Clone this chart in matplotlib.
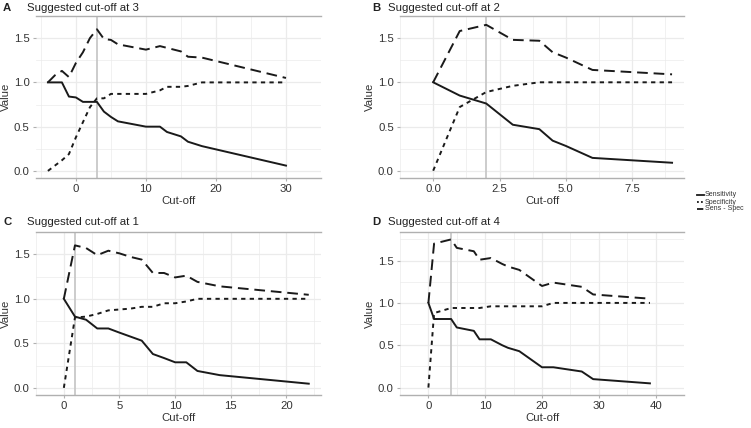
import matplotlib
matplotlib.use("Agg")
import matplotlib.pyplot as plt
from matplotlib.lines import Line2D

plt.rcParams['font.family'] = ['Liberation Sans', 'DejaVu Sans']

# Panel A
a_x = [-4, -3, -2, -1, 0, 1, 2, 3, 4, 5, 6, 10, 12, 13, 15, 16, 18, 30]
a_sens = [1.0, 1.0, 1.0, 0.84, 0.83, 0.78, 0.78, 0.78, 0.67, 0.61, 0.56, 0.50, 0.50, 0.44, 0.39, 0.33, 0.28, 0.06]
a_spec = [0.0, 0.06, 0.12, 0.19, 0.38, 0.55, 0.72, 0.82, 0.82, 0.87, 0.87, 0.87, 0.91, 0.95, 0.95, 0.96, 1.0, 1.0]
a_sum = [1.0, 1.08, 1.13, 1.06, 1.22, 1.34, 1.50, 1.60, 1.49, 1.48, 1.43, 1.37, 1.41, 1.39, 1.35, 1.29, 1.28, 1.05]
a_cut = 3

# Panel B
b_x = [0, 1, 2, 3, 4, 4.5, 5, 6, 9]
b_sens = [1.0, 0.85, 0.76, 0.52, 0.47, 0.34, 0.28, 0.145, 0.09]
b_spec = [0.0, 0.72, 0.89, 0.96, 1.0, 1.0, 1.0, 1.0, 1.0]
b_sum = [1.0, 1.58, 1.65, 1.48, 1.47, 1.34, 1.28, 1.14, 1.09]
b_cut = 2

# Panel C
c_x = [0, 1, 2, 3, 4, 5, 6, 7, 8, 9, 10, 11, 12, 14, 22]
c_sens = [1.0, 0.80, 0.765, 0.667, 0.667, 0.62, 0.575, 0.53, 0.38, 0.335, 0.287, 0.287, 0.19, 0.143, 0.047]
c_spec = [0.0, 0.79, 0.80, 0.83, 0.87, 0.88, 0.89, 0.91, 0.91, 0.95, 0.95, 0.97, 1.0, 1.0, 1.0]
c_sum = [1.0, 1.60, 1.57, 1.49, 1.54, 1.51, 1.47, 1.44, 1.29, 1.29, 1.24, 1.26, 1.19, 1.14, 1.045]
c_cut = 1

# Panel D
d_x = [0, 1, 4, 5, 8, 9, 11, 13, 14, 16, 20, 22, 27, 29, 39]
d_sens = [1.0, 0.81, 0.81, 0.71, 0.67, 0.57, 0.57, 0.50, 0.47, 0.43, 0.24, 0.24, 0.19, 0.10, 0.05]
d_spec = [0.0, 0.88, 0.94, 0.94, 0.94, 0.94, 0.96, 0.96, 0.96, 0.96, 0.96, 1.0, 1.0, 1.0, 1.0]
d_sum = [1.0, 1.70, 1.75, 1.65, 1.61, 1.51, 1.53, 1.46, 1.43, 1.39, 1.20, 1.24, 1.19, 1.10, 1.05]
d_cut = 4

letters = ["A", "B", "C", "D"]
titles = ["Suggested cut-off at 3", "Suggested cut-off at 2", "Suggested cut-off at 1", "Suggested cut-off at 4"]
legend_labels = ["Sensitivity", "Specificity", "Sens - Spec"]
xticks = [[0, 10, 20, 30], [0.0, 2.5, 5.0, 7.5], [0, 5, 10, 15, 20], [0, 10, 20, 30, 40]]
xticklabels = [["0", "10", "20", "30"], ["0.0", "2.5", "5.0", "7.5"], ["0", "5", "10", "15", "20"], ["0", "10", "20", "30", "40"]]
yticks = [0.0, 0.5, 1.0, 1.5]
ytlabels = ["0.0", "0.5", "1.0", "1.5"]

W, H = 751, 428
fig = plt.figure(figsize=(W / 100, H / 100), dpi=100)

boxes = [(36, 16, 321, 178), (400, 16, 684, 178), (36, 232, 321, 395), (400, 232, 684, 395)]
panels = [
    (a_x, a_sens, a_spec, a_sum, a_cut),
    (b_x, b_sens, b_spec, b_sum, b_cut),
    (c_x, c_sens, c_spec, c_sum, c_cut),
    (d_x, d_sens, d_spec, d_sum, d_cut),
]

lc = "#1a1a1a"
gridc = "#ebebeb"
axc = "#b0b0b0"
fs = 8.2

for i, ((l, t, r, b), (x, se, sp, su, cut)) in enumerate(zip(boxes, panels)):
    ax = fig.add_axes([l / W, 1 - b / H, (r - l) / W, (b - t) / H])
    xmin, xmax = min(x), max(x)
    xr = xmax - xmin
    ymax = max(max(su), max(se), max(sp))
    ax.set_xlim(xmin - 0.05 * xr, xmax + 0.05 * xr)
    ax.set_ylim(0 - 0.05 * ymax, ymax * 1.05)
    xt = xticks[i]
    step = xt[1] - xt[0]
    minors = [v + step / 2 for v in [xt[0] - step] + xt]
    ax.set_xticks(xt)
    ax.set_xticklabels(xticklabels[i])
    ax.set_xticks(minors, minor=True)
    ax.set_yticks(yticks)
    ax.set_yticklabels(ytlabels)
    ax.set_yticks([0.25, 0.75, 1.25, 1.75], minor=True)
    ax.grid(True, which="major", color=gridc, lw=0.9)
    ax.grid(True, which="minor", color=gridc, lw=0.5)
    ax.set_axisbelow(True)
    for s in ["left", "right"]:
        ax.spines[s].set_visible(False)
    ax.spines["top"].set_color(axc)
    ax.spines["bottom"].set_color(axc)
    ax.spines["top"].set_linewidth(1.0)
    ax.spines["bottom"].set_linewidth(1.0)
    ax.tick_params(which="major", length=2.5, color=axc, labelsize=fs, labelcolor="#333333", pad=2)
    ax.tick_params(which="minor", length=0)
    ax.axvline(cut, color="#c8c8c8", lw=1.3, zorder=1)
    ax.plot(x, se, color=lc, lw=1.4, ls="-", zorder=3)
    ax.plot(x, sp, color=lc, lw=1.4, ls=(0, (2.2, 2.2)), zorder=3)
    ax.plot(x, su, color=lc, lw=1.4, ls=(0, (5.5, 3)), zorder=3)
    ax.set_ylabel("Value", fontsize=fs, color="#333333", labelpad=2)
    ax.set_xlabel("Cut-off", fontsize=fs, color="#333333", labelpad=1)
    lx = 3 if i % 2 == 0 else 372
    tx = 27 if i % 2 == 0 else 388
    ty = 8 if i < 2 else 222
    fig.text(lx / W, 1 - ty / H, letters[i], fontsize=fs, fontweight="bold", va="center", ha="left", color="#222222")
    fig.text(tx / W, 1 - ty / H, titles[i], fontsize=fs, va="center", ha="left", color="#222222")

# legend
styles = ["-", (0, (1.0, 1.2)), (0, (3.5, 1.5))]
for k, (lab, st) in enumerate(zip(legend_labels, styles)):
    y = 195 + 7 * k
    fig.add_artist(Line2D([697 / W, 704 / W], [1 - y / H, 1 - y / H], color=lc, lw=1.3, ls=st,
                          transform=fig.transFigure))
    fig.text(705 / W, 1 - y / H, lab, fontsize=5.0, va="center", ha="left", color="#333333")

fig.savefig("out.png", dpi=100, facecolor="white")
